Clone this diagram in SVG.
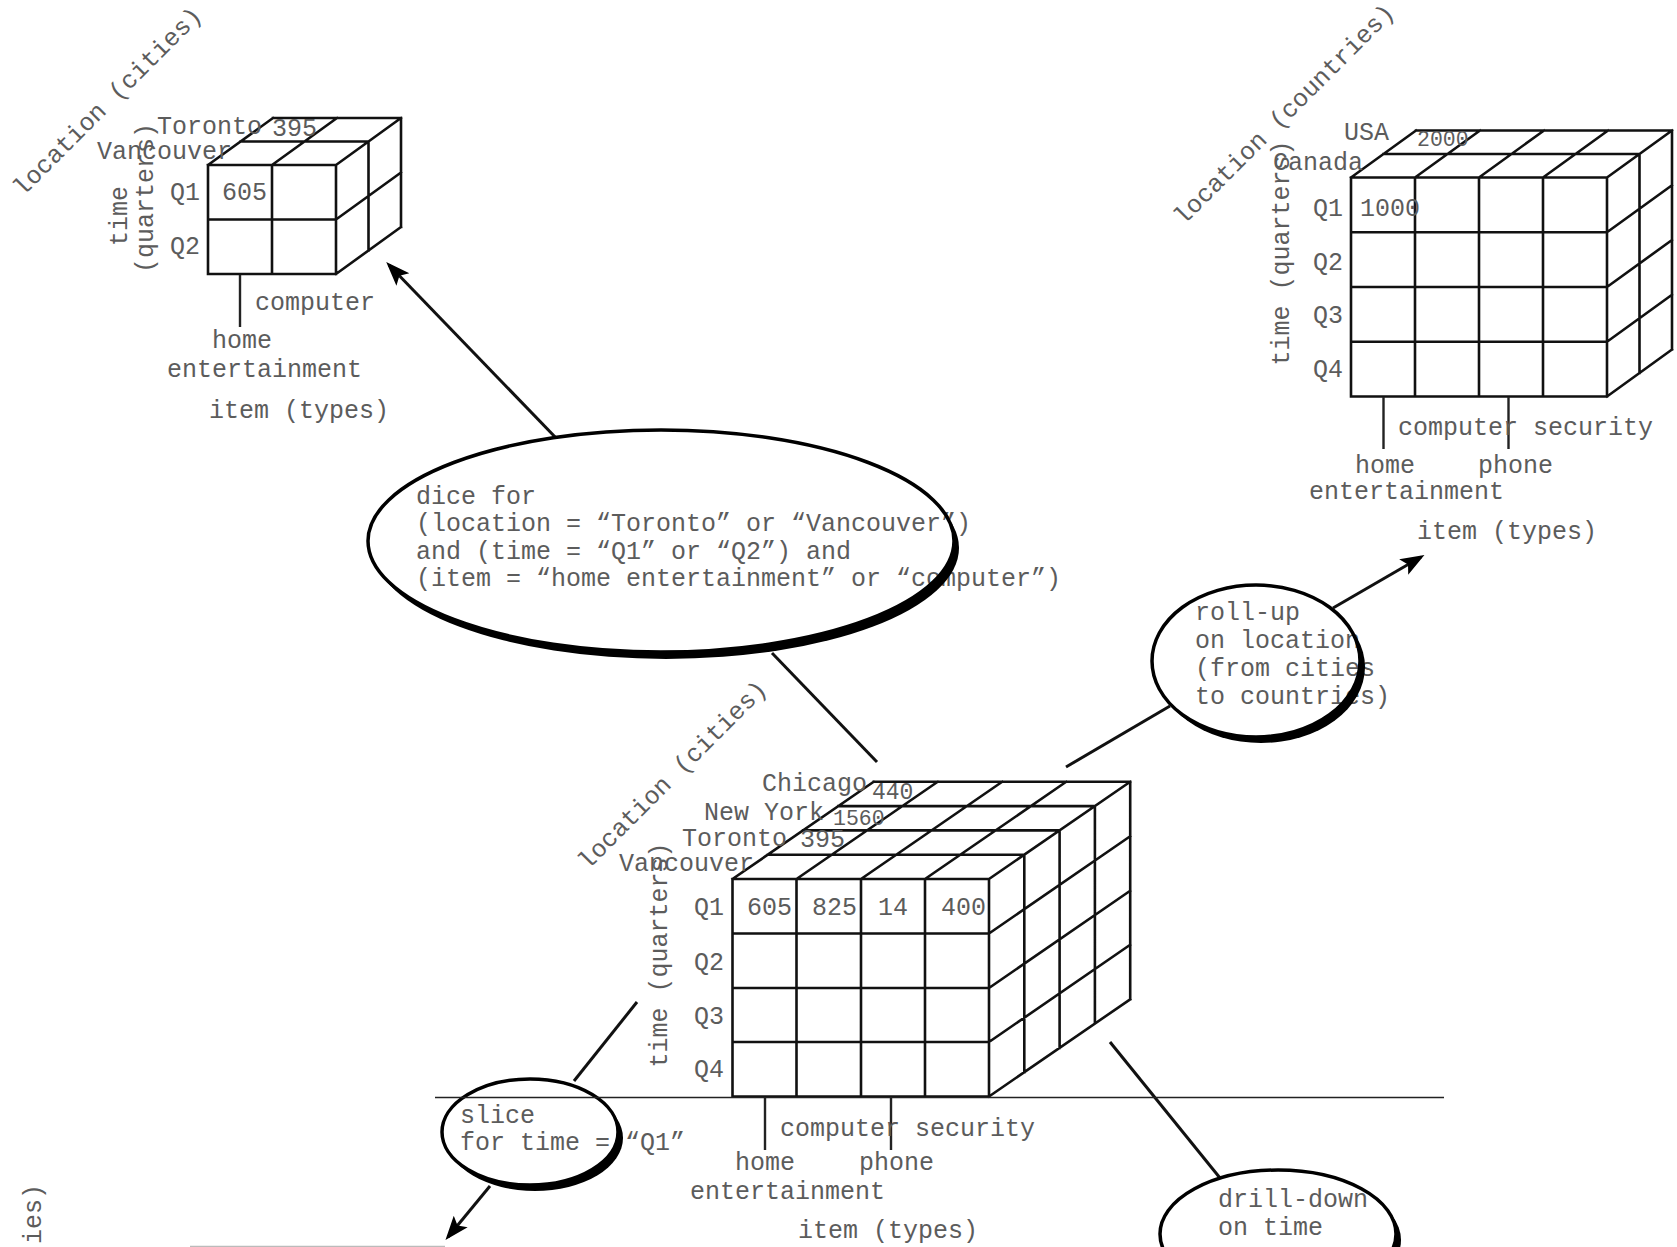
<svg xmlns="http://www.w3.org/2000/svg" width="1677" height="1247" viewBox="0 0 1677 1247">
<style>
.t{font-family:"Liberation Mono","Courier New",monospace;font-size:25px;fill:#5c5c5c}
.sm{font-size:21.5px}
.g{fill:none;stroke:#111;stroke-width:2.6;stroke-linecap:square}
.c{fill:none;stroke:#111;stroke-width:3}
.tick{stroke:#222;stroke-width:2.4}
.ef{fill:#fff;stroke:none}
.es{fill:none;stroke:#000;stroke-width:3.5}
.sh{fill:#000}
</style>
<defs>
<marker id="ah" markerUnits="userSpaceOnUse" markerWidth="26" markerHeight="22" refX="20" refY="11" orient="auto">
<path d="M0,2 L24,11 L0,20 L5,11 Z" fill="#000"/>
</marker>
<mask id="mDice"><rect width="1677" height="1247" fill="#fff"/><ellipse cx="661" cy="541" rx="293" ry="111" fill="#000"/></mask>
<mask id="mRoll"><rect width="1677" height="1247" fill="#fff"/><ellipse cx="1256" cy="661" rx="104" ry="76" fill="#000"/></mask>
<mask id="mSlice"><rect width="1677" height="1247" fill="#fff"/><ellipse cx="530" cy="1132" rx="88" ry="53" fill="#000"/></mask>
<mask id="mDrill"><rect width="1677" height="1247" fill="#fff"/><ellipse cx="1278" cy="1234" rx="118" ry="64" fill="#000"/></mask>
</defs>
<rect width="1677" height="1247" fill="#fff"/>

<g id="connectors">
<line class="c" x1="558" y1="440" x2="389" y2="265" marker-end="url(#ah)"/>
<line class="c" x1="877" y1="762" x2="772" y2="653"/>
<line class="c" x1="1066" y1="767" x2="1170" y2="706"/>
<line class="c" x1="1333" y1="608" x2="1421" y2="557" marker-end="url(#ah)"/>
<line class="c" x1="637" y1="1002" x2="574" y2="1081"/>
<line class="c" x1="490" y1="1186" x2="448" y2="1237" marker-end="url(#ah)"/>
<line class="c" x1="1110" y1="1042" x2="1220" y2="1178"/>
</g>

<g id="cube-dice-result">
<path class="g" d="M208,165 H336 V274 H208 Z M272,165 V274 M208,219.5 H336
M240.5,141.5 H368.5 M273,118 H401
M208,165 L273,118 M272,165 L337,118 M336,165 L401,118
M368.5,141.5 V250.5 M401,118 V227
M336,219.5 L401,172.5 M336,274 L401,227"/>
<text class="t" x="157" y="134">Toronto</text>
<text class="t" x="272" y="136">395</text>
<text class="t" x="97" y="159">Vancouver</text>
<text class="t" x="170" y="200">Q1</text>
<text class="t" x="222" y="200">605</text>
<text class="t" x="170" y="254">Q2</text>
<text class="t" transform="translate(127,216) rotate(-90)" text-anchor="middle">time</text>
<text class="t" transform="translate(153,198) rotate(-90)" text-anchor="middle">(quarters)</text>
<text class="t" transform="translate(113,107) rotate(-45)" text-anchor="middle">location (cities)</text>
<line class="tick" x1="240" y1="275" x2="240" y2="327"/>
<text class="t" x="255" y="310">computer</text>
<text class="t" x="212" y="348">home</text>
<text class="t" x="167" y="377">entertainment</text>
<text class="t" x="209" y="418">item (types)</text>
</g>

<g id="cube-rollup-result">
<path class="g" d="M1351,177.5 H1607 V396.5 H1351 Z
M1415,177.5 V396.5 M1479,177.5 V396.5 M1543,177.5 V396.5
M1351,232.25 H1607 M1351,287 H1607 M1351,341.75 H1607
M1383.5,154 H1639.5 M1416,130.5 H1672
M1351,177.5 L1416,130.5 M1415,177.5 L1480,130.5 M1479,177.5 L1544,130.5 M1543,177.5 L1608,130.5 M1607,177.5 L1672,130.5
M1639.5,154 V373 M1672,130.5 V349.5
M1607,232.25 L1672,185.25 M1607,287 L1672,240 M1607,341.75 L1672,294.75 M1607,396.5 L1672,349.5"/>
<text class="t" x="1344" y="140">USA</text>
<text class="t sm" x="1417" y="146">2000</text>
<text class="t" x="1273" y="170">Canada</text>
<text class="t" x="1313" y="216">Q1</text>
<text class="t" x="1360" y="216">1000</text>
<text class="t" x="1313" y="269.5">Q2</text>
<text class="t" x="1313" y="323">Q3</text>
<text class="t" x="1313" y="377">Q4</text>
<text class="t" transform="translate(1289,253) rotate(-90)" text-anchor="middle">time (quarters)</text>
<text class="t" transform="translate(1289.5,120) rotate(-45)" text-anchor="middle">location (countries)</text>
<line class="tick" x1="1383.5" y1="397" x2="1383.5" y2="449"/>
<line class="tick" x1="1508.5" y1="397" x2="1508.5" y2="449"/>
<text class="t" x="1398" y="435">computer security</text>
<text class="t" x="1355" y="473">home</text>
<text class="t" x="1478" y="473">phone</text>
<text class="t" x="1309" y="499">entertainment</text>
<text class="t" x="1417" y="539">item (types)</text>
</g>

<g id="cube-main">
<path class="g" d="M732.5,879 H989 V1096.5 H732.5 Z
M796.5,879 V1096.5 M861,879 V1096.5 M925,879 V1096.5
M732.5,933.5 H989 M732.5,988 H989 M732.5,1042 H989
M767.8,854.7 H1024.3 M803.1,830.4 H1059.6 M838.4,806.1 H1094.9 M873.7,781.8 H1130.2
M732.5,879 L873.7,781.8 M796.5,879 L937.7,781.8 M861,879 L1002.2,781.8 M925,879 L1066.2,781.8 M989,879 L1130.2,781.8
M1024.3,854.7 V1072.2 M1059.6,830.4 V1047.9 M1094.9,806.1 V1023.6 M1130.2,781.8 V999.3
M989,933.5 L1130.2,836.3 M989,988 L1130.2,890.8 M989,1042 L1130.2,944.8 M989,1096.5 L1130.2,999.3"/>
<text class="t" x="762" y="791">Chicago</text>
<text class="t" x="872" y="799" style="font-size:23px">440</text>
<text class="t" x="704" y="820">New York</text>
<text class="t sm" x="833" y="825">1560</text>
<text class="t" x="682" y="846">Toronto</text>
<text class="t" x="800" y="847">395</text>
<text class="t" x="619" y="871">Vancouver</text>
<text class="t" x="694" y="915">Q1</text>
<text class="t" x="747" y="915">605</text>
<text class="t" x="812" y="915">825</text>
<text class="t" x="878" y="915">14</text>
<text class="t" x="941" y="915">400</text>
<text class="t" x="694" y="970">Q2</text>
<text class="t" x="694" y="1024">Q3</text>
<text class="t" x="694" y="1077">Q4</text>
<text class="t" transform="translate(667,955) rotate(-90)" text-anchor="middle">time (quarters)</text>
<text class="t" transform="translate(678,780.5) rotate(-45)" text-anchor="middle">location (cities)</text>
<line class="tick" x1="765" y1="1098" x2="765" y2="1150"/>
<line class="tick" x1="891" y1="1098" x2="891" y2="1150"/>
<text class="t" x="780" y="1136">computer security</text>
<text class="t" x="735" y="1170">home</text>
<text class="t" x="859" y="1170">phone</text>
<text class="t" x="690" y="1199">entertainment</text>
<text class="t" x="798" y="1238">item (types)</text>
</g>

<g id="op-dice">
<ellipse class="ef" cx="661" cy="541" rx="293" ry="111"/>
<text class="t" x="416" y="504">dice for</text>
<text class="t" x="416" y="531">(location = “Toronto” or “Vancouver”)</text>
<text class="t" x="416" y="559">and (time = “Q1” or “Q2”) and</text>
<text class="t" x="416" y="586">(item = “home entertainment” or “computer”)</text>
<ellipse class="sh" cx="666" cy="548" rx="293" ry="111" mask="url(#mDice)"/>
<ellipse class="es" cx="661" cy="541" rx="293" ry="111"/>
</g>

<g id="op-rollup">
<ellipse class="ef" cx="1256" cy="661" rx="104" ry="76"/>
<text class="t" x="1195" y="620">roll-up</text>
<text class="t" x="1195" y="648">on location</text>
<text class="t" x="1195" y="676">(from cities</text>
<text class="t" x="1195" y="704">to countries)</text>
<ellipse class="sh" cx="1261" cy="667" rx="104" ry="76" mask="url(#mRoll)"/>
<ellipse class="es" cx="1256" cy="661" rx="104" ry="76"/>
</g>

<g id="op-slice">
<ellipse class="ef" cx="530" cy="1132" rx="88" ry="53"/>
<text class="t" x="460" y="1123">slice</text>
<text class="t" x="460" y="1150">for time = “Q1”</text>
<ellipse class="sh" cx="535" cy="1138" rx="88" ry="53" mask="url(#mSlice)"/>
<ellipse class="es" cx="530" cy="1132" rx="88" ry="53"/>
</g>

<g id="op-drilldown">
<ellipse class="ef" cx="1278" cy="1234" rx="118" ry="64"/>
<text class="t" x="1218" y="1207">drill-down</text>
<text class="t" x="1218" y="1235">on time</text>
<ellipse class="sh" cx="1283" cy="1240" rx="118" ry="64" mask="url(#mDrill)"/>
<ellipse class="es" cx="1278" cy="1234" rx="118" ry="64"/>
</g>

<g id="slice-plane">
<line x1="435" y1="1097.5" x2="1444" y2="1097.5" stroke="#222" stroke-width="1.7"/>
</g>

<g id="cube-slice-result">
<text class="t" transform="translate(41,1184) rotate(-90)" text-anchor="end">ies)</text>
<line x1="190" y1="1246.5" x2="445" y2="1246.5" stroke="#bbb" stroke-width="1.5"/>
</g>
</svg>
